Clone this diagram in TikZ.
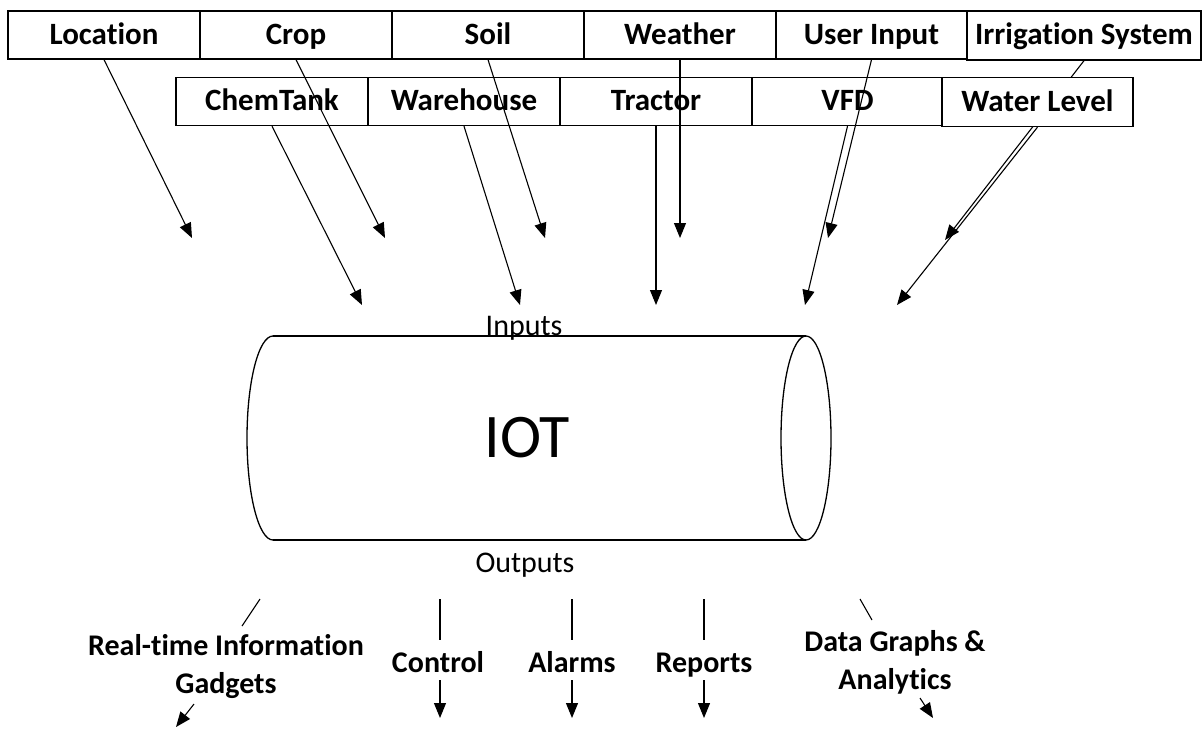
\documentclass[tikz,border=0pt]{standalone}
\usepackage{fontspec}
\setmainfont{Carlito}[Ligatures=NoCommon]
\usetikzlibrary{arrows.meta}
\begin{document}
\begin{tikzpicture}[x=1pt,y=-1pt,
  topbox/.style={draw, line width=1.3pt, minimum width=192pt, minimum height=48pt, inner sep=0pt, text height=24pt, text depth=6pt, font=\fontsize{31}{36}\selectfont\bfseries},
  conn/.style={line width=1.1pt, -{Triangle[length=15pt,width=12pt]}},
  plainline/.style={line width=1.1pt},
  lbl/.style={font=\fontsize{30}{38}\selectfont\bfseries, align=center, inner sep=0pt},
  onelbl/.style={font=\fontsize{30}{38}\selectfont\bfseries, inner sep=0pt, text height=20pt, text depth=7pt},
  cyl/.style={line width=1.3pt}]
\useasboundingbox (0,0) rectangle (1204,729);

% top row
\node[topbox] (loc) at (104,35) {Location};
\node[topbox] (crop) at (296,35) {Crop};
\node[topbox] (soil) at (488,35) {Soil};
\node[topbox] (weather) at (680,35) {Weather};
\node[topbox, minimum width=191pt] (user) at (871.5,35) {User Input};
\node[topbox, minimum width=234pt, minimum height=49pt] (irr) at (1084,35.5) {Irrigation System};

% second row
\node[topbox] (chem) at (272,101.5) {ChemTank};
\node[topbox] (ware) at (464,101.5) {Warehouse};
\node[topbox] (tractor) at (656,101.5) {Tractor};
\node[topbox, minimum width=191pt] (vfd) at (847.5,101.5) {VFD};

% arrow ends
\coordinate (locE) at (192,238);
\coordinate (cropE) at (385,238);
\coordinate (soilE) at (545,238);
\coordinate (weatherE) at (680,238);
\coordinate (userE) at (828,238);
\coordinate (irrE) at (945,240);
\coordinate (chemE) at (362,305);
\coordinate (wareE) at (520,305);
\coordinate (tractorE) at (656,305);
\coordinate (vfdE) at (805,305);
\coordinate (waterE) at (897,305);

\draw[conn] (loc.south) -- (locE);
\draw[conn] (crop.south) -- (cropE);
\draw[conn] (soil.south) -- (soilE);
\draw[conn] (weather.south) -- (weatherE);
\draw[conn] (user.south) -- (userE);
\draw[conn] (irr.south) -- (irrE);
\draw[conn] (chem.south) -- (chemE);
\draw[conn] (ware.south) -- (wareE);
\draw[conn] (tractor.south) -- (tractorE);
\draw[conn] (vfd.south) -- (vfdE);

\node[topbox, fill=white, minimum width=191pt, minimum height=49pt] (water) at (1037.5,102) {Water Level};
\draw[conn] (water.south) -- (waterE);

% cylinder
\draw[cyl] (273,336) -- (806,336);
\draw[cyl] (273,540) -- (806,540);
\draw[cyl] (273,336) arc[start angle=90, end angle=270, x radius=26pt, y radius=102pt];
\draw[cyl] (806,438) ellipse[x radius=25pt, y radius=102pt];
\node[font=\fontsize{62}{70}\selectfont] (iot) at (527,438) {IOT};

\node[font=\fontsize{30}{36}\selectfont, anchor=base, inner sep=0pt] (inputs) at (524,335) {Inputs};
\node[font=\fontsize{30}{36}\selectfont, anchor=base, inner sep=0pt] (outputs) at (525,572) {Outputs};

% outputs
\node[lbl, anchor=base] (rt) at (226,693) {Real-time Information\\Gadgets};
\node[onelbl] (ctrl) at (438,666) {Control};
\node[onelbl] (alarm) at (572,666) {Alarms};
\node[onelbl] (rep) at (704,666) {Reports};
\node[lbl, anchor=base] (data) at (895,689) {Data Graphs \&\\Analytics};

\coordinate (rtA) at (260,599);
\coordinate (rtB) at (242,626);
\coordinate (rtC) at (194,704);
\coordinate (rtD) at (176,727);
\draw[plainline] (rtA) -- (rtB);
\draw[conn] (rtC) -- (rtD);

\coordinate (ctA) at (440,599);
\coordinate (ctB) at (440,640);
\coordinate (ctC) at (440,680);
\coordinate (ctD) at (440,718);
\draw[plainline] (ctA) -- (ctB);
\draw[conn] (ctC) -- (ctD);

\coordinate (alA) at (572,599);
\coordinate (alB) at (572,640);
\coordinate (alC) at (572,680);
\coordinate (alD) at (572,718);
\draw[plainline] (alA) -- (alB);
\draw[conn] (alC) -- (alD);

\coordinate (reA) at (704,599);
\coordinate (reB) at (704,640);
\coordinate (reC) at (704,680);
\coordinate (reD) at (704,718);
\draw[plainline] (reA) -- (reB);
\draw[conn] (reC) -- (reD);

\coordinate (daA) at (860,599);
\coordinate (daB) at (872,620);
\coordinate (daC) at (920,698);
\coordinate (daD) at (933,718);
\draw[plainline] (daA) -- (daB);
\draw[conn] (daC) -- (daD);
\end{tikzpicture}
\end{document}
